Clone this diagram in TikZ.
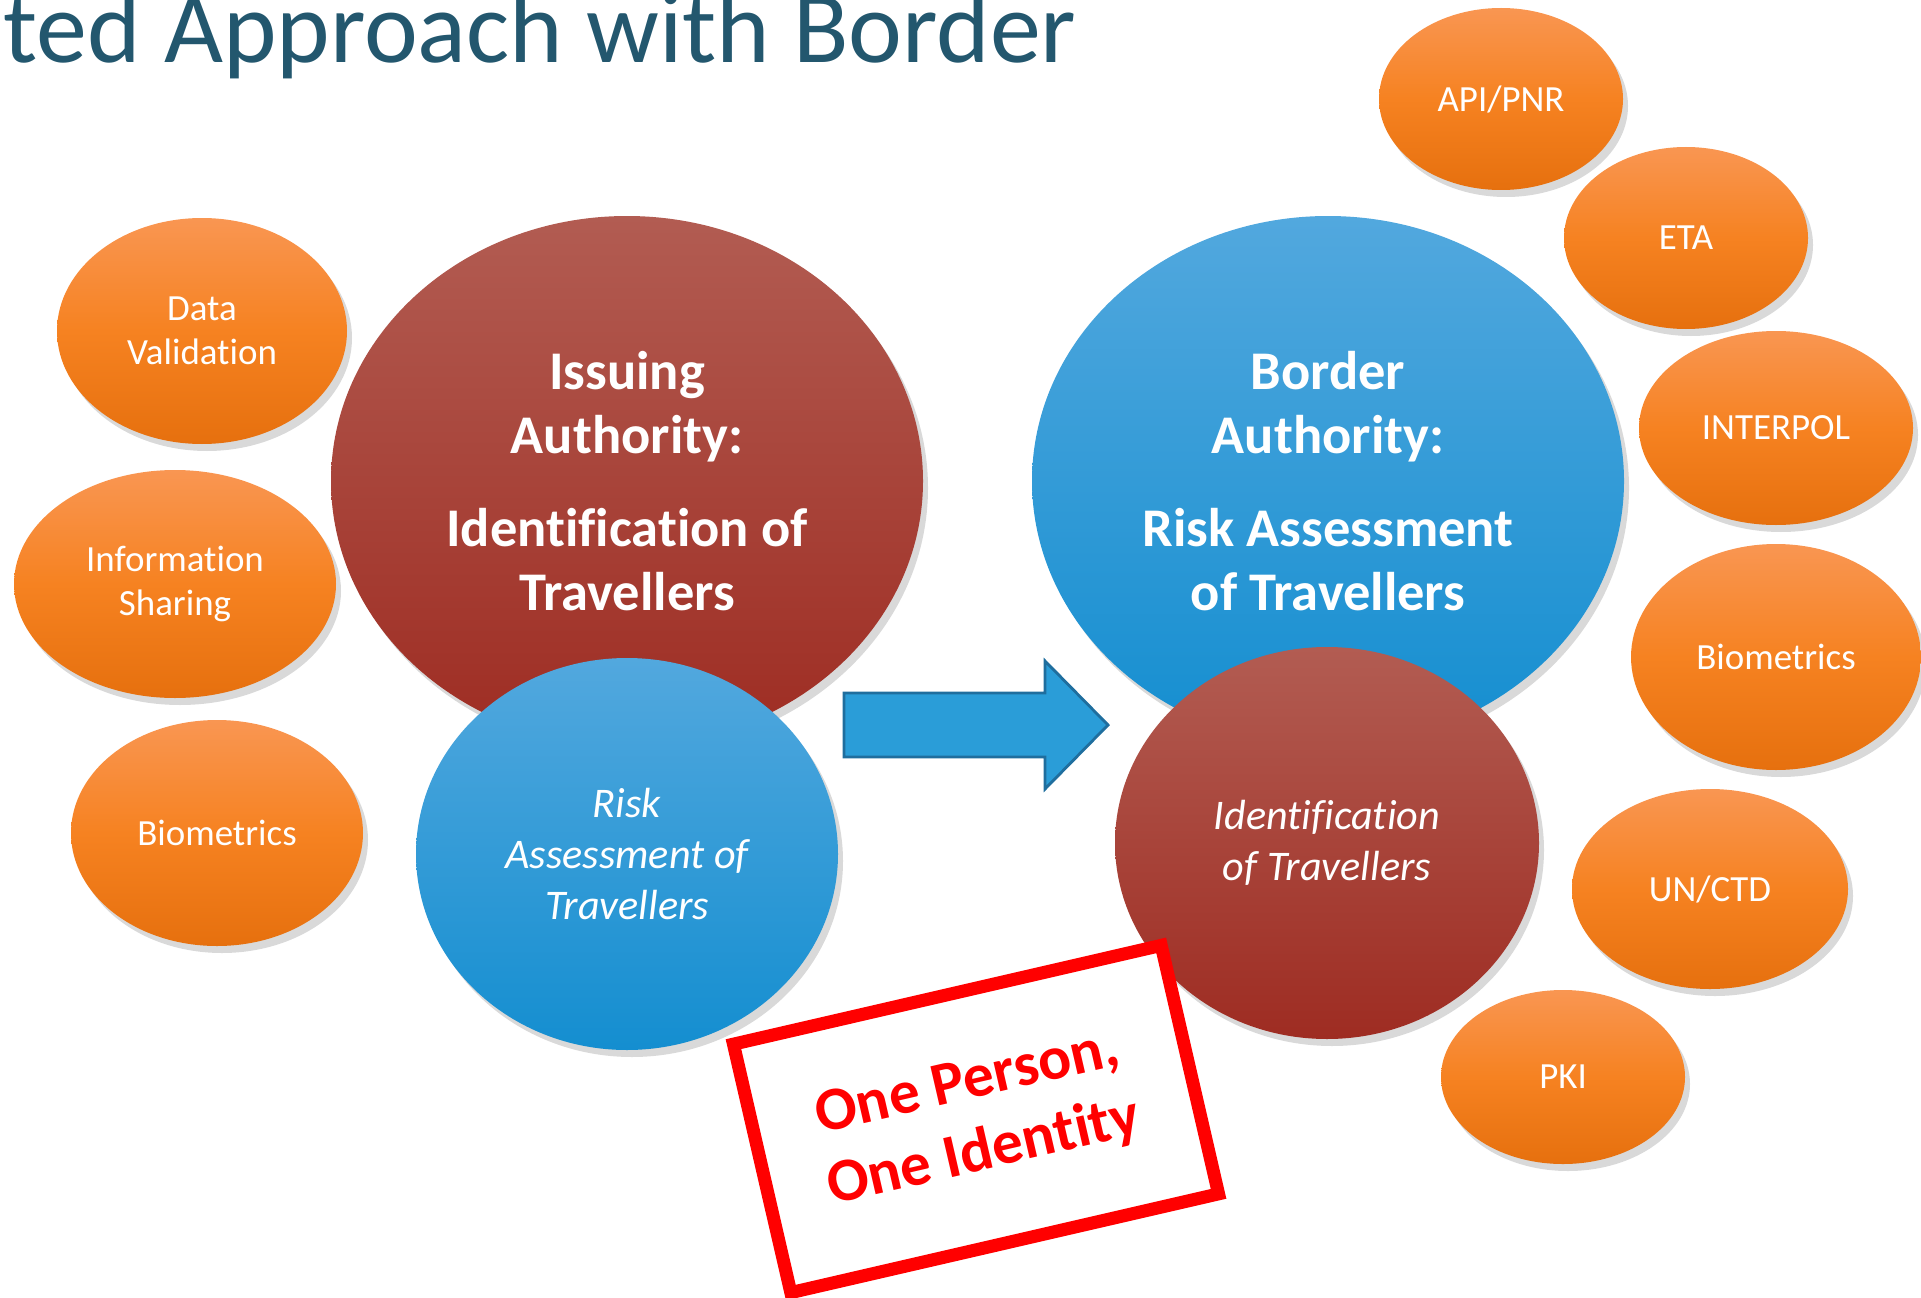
\documentclass[tikz,border=0pt]{standalone}
\usepackage{fontspec}
\setmainfont[Ligatures=NoCommon]{Carlito}
\usetikzlibrary{shapes.geometric,shadows}

\definecolor{titleblue}{RGB}{35,87,110}
\definecolor{orangetop}{RGB}{249,150,82}
\definecolor{orangemid}{RGB}{246,130,33}
\definecolor{orangebot}{RGB}{230,112,14}
\definecolor{redtop}{RGB}{178,92,82}
\definecolor{redbot}{RGB}{158,44,34}
\definecolor{bluetop}{RGB}{82,168,222}
\definecolor{bluebot}{RGB}{20,142,208}
\definecolor{arrowblue}{RGB}{42,157,216}
\definecolor{arrowedge}{RGB}{31,110,158}
\definecolor{stampred}{RGB}{255,0,0}

\begin{document}
\begin{tikzpicture}[x=0.1mm,y=-0.1mm,
        bubble/.style={ellipse, inner sep=0pt, align=center, text=white,
          drop shadow={shadow xshift=0.5mm, shadow yshift=-0.7mm, opacity=0.3}},
        orangebubble/.style={bubble, top color=orangetop, bottom color=orangebot,
          middle color=orangemid, font=\fontsize{10.5}{12.5}\selectfont},
        redbubble/.style={bubble, top color=redtop, bottom color=redbot},
        bluebubble/.style={bubble, top color=bluetop, bottom color=bluebot},
        bigtext/.style={font=\fontsize{15.5}{18.3}\selectfont\bfseries},
        smalltext/.style={font=\fontsize{12}{14.5}\selectfont\itshape},
        stamp/.style={draw=stampred, line width=1.3mm, fill=white, rotate=13,
          align=center, text=stampred, font=\fontsize{17.5}{20.5}\selectfont\bfseries}]
  \path[use as bounding box] (0,0) rectangle (1921,1298);
  \clip (0,0) rectangle (1921,1298);

  % title
  \node[anchor=base west, inner sep=0pt, text=titleblue,
    font=\fontsize{29}{30}\selectfont] (title) at (3,63) {ted Approach with Border};

  % left side
  \node[orangebubble, minimum width=29mm, minimum height=22.6mm] (datav) at (202,331) {Data\\Validation};
  \node[orangebubble, minimum width=32.2mm, minimum height=22.8mm] (infosh) at (175,584) {Information\\Sharing};
  \node[orangebubble, minimum width=29.2mm, minimum height=22.6mm] (biomleft) at (217,833) {Biometrics};

  \node[redbubble, bigtext, minimum width=59.2mm, minimum height=53mm] (issuing) at (627,481)
    {Issuing\\Authority:\\[8pt]Identification of\\Travellers};
  \node[bluebubble, smalltext, minimum width=42.2mm, minimum height=39.2mm] (riskleft) at (627,854)
    {Risk\\Assessment of\\Travellers};

  % right side
  \node[bluebubble, bigtext, minimum width=59.2mm, minimum height=53mm] (border) at (1328,481)
    {Border\\Authority:\\[8pt]Risk Assessment\\of Travellers};
  \node[redbubble, smalltext, minimum width=42.4mm, minimum height=39.2mm] (identright) at (1327,843)
    {Identification\\of Travellers};

  \node[orangebubble, minimum width=24.4mm, minimum height=18.2mm] (apipnr) at (1501,99) {API/PNR};
  \node[orangebubble, minimum width=24.4mm, minimum height=18.2mm] (eta) at (1686,238) {ETA};
  \node[orangebubble, minimum width=27.4mm, minimum height=19.4mm] (interpol) at (1776,428) {INTERPOL};
  \node[orangebubble, minimum width=29mm, minimum height=22.6mm] (biomright) at (1776,657) {Biometrics};
  \node[orangebubble, minimum width=27.6mm, minimum height=20mm] (unctd) at (1710,889) {UN/CTD};
  \node[orangebubble, minimum width=24.4mm, minimum height=17.4mm] (pki) at (1563,1077) {PKI};

  % arrow between the two authorities
  \draw[fill=arrowblue, draw=arrowedge, line width=0.8pt, line join=miter]
    (844,693) -- (1045,693) -- (1045,661) -- (1108,725) -- (1045,789)
    -- (1045,757) -- (844,757) -- cycle;

  % stamp
  \node[stamp, minimum width=43.9mm, minimum height=25.5mm] (oneperson) at (976,1119)
    {One Person,\\One Identity};
\end{tikzpicture}
\end{document}
